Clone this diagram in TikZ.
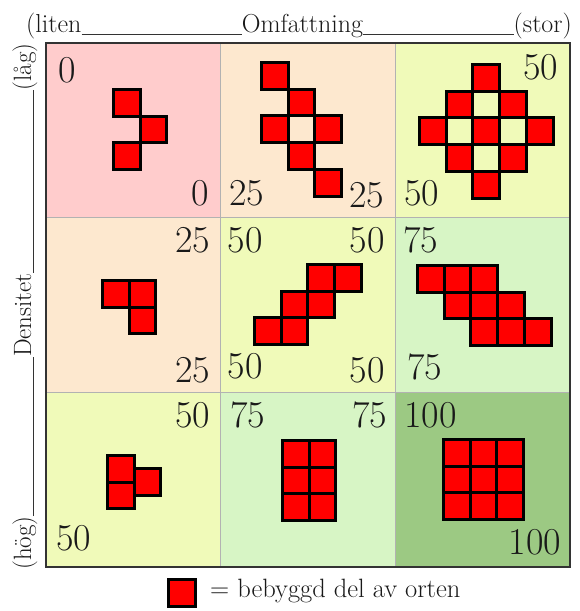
\documentclass[tikz,border=0pt]{standalone}
\usepackage{fontspec}
\usetikzlibrary{calc}
\definecolor{cpink}{HTML}{FFCCCC}
\definecolor{cpeach}{HTML}{FDE8CF}
\definecolor{cyell}{HTML}{F0FAB9}
\definecolor{clgreen}{HTML}{D7F5C5}
\definecolor{cdgreen}{HTML}{9CC983}
\begin{document}
\begin{tikzpicture}[x=1pt,y=-1pt,
  cellbox/.style={draw=gray!60,line width=0.8pt},
  num/.style={inner sep=0pt,font=\fontsize{38}{40}\selectfont,text=black!90},
  lab/.style={inner sep=0pt,font=\fontsize{26}{28}\selectfont,text=black!90},
  vlab/.style={inner sep=0pt,font=\fontsize{25}{27}\selectfont,text=black!90,rotate=90},
  uline/.style={draw=black!80,line width=1.4pt},
  blk/.style={draw=black,fill=red,line width=3pt,line join=miter}]
\useasboundingbox (0,0) rectangle (579,611);
\fill[white] (0,0) rectangle (579,611);
% cells
\def\xa{46}\def\xb{220}\def\xc{395}\def\xd{570}
\def\ya{43}\def\yb{217}\def\yc{392}\def\yd{567}
\fill[cpink]   (\xa,\ya) rectangle (\xb,\yb);
\fill[cpeach]  (\xb,\ya) rectangle (\xc,\yb);
\fill[cyell]   (\xc,\ya) rectangle (\xd,\yb);
\fill[cpeach]  (\xa,\yb) rectangle (\xb,\yc);
\fill[cyell]   (\xb,\yb) rectangle (\xc,\yc);
\fill[clgreen] (\xc,\yb) rectangle (\xd,\yc);
\fill[cyell]   (\xa,\yc) rectangle (\xb,\yd);
\fill[clgreen] (\xb,\yc) rectangle (\xc,\yd);
\fill[cdgreen] (\xc,\yc) rectangle (\xd,\yd);
\draw[cellbox] (\xb,\ya) -- (\xb,\yd) (\xc,\ya) -- (\xc,\yd)
               (\xa,\yb) -- (\xd,\yb) (\xa,\yc) -- (\xd,\yc);
\draw[black!80,line width=1.5pt] (\xa,\ya) rectangle (\xd,\yd);
% squares
\def\p{26.7}
\foreach \ox/\oy/\list in {
  113.5/89.5/{0/0,1/1,0/2},
  261.5/62.5/{0/0,1/1,0/2,2/2,1/3,2/4},
  419.5/64.5/{2/0,1/1,3/1,0/2,2/2,4/2,1/3,3/3,2/4},
  102.5/280.5/{0/0,1/0,1/1},
  254.5/264.5/{2/0,3/0,1/1,2/1,0/2,1/2},
  417.5/265.5/{0/0,1/0,2/0,1/1,2/1,3/1,2/2,3/2,4/2},
  107.5/455.5/{0/0,0/1,1/0.5},
  282.5/440.5/{0/0,1/0,0/1,1/1,0/2,1/2},
  443.5/439.5/{0/0,1/0,2/0,0/1,1/1,2/1,0/2,1/2,2/2}}{
  \foreach \c/\r in \list {
    \draw[blk] ({\ox+\c*\p},{\oy+\r*\p}) rectangle ++(\p,\p);
  }
}
% numbers
\node[num] (n11a) at (67.5,70.5) {0};
\node[num] (n11b) at (200,193.5) {0};
\node[num] (n12a) at (246.5,193.5) {25};
\node[num] (n12b) at (366.5,195) {25};
\node[num] (n13a) at (540.5,67) {50};
\node[num] (n13b) at (421.5,193.5) {50};
\node[num] (n21a) at (192.5,240) {25};
\node[num] (n21b) at (192.5,370) {25};
\node[num] (n22a) at (245,240) {50};
\node[num] (n22b) at (367,240) {50};
\node[num] (n22c) at (245,366.5) {50};
\node[num] (n22d) at (367,370) {50};
\node[num] (n23a) at (420.5,240) {75};
\node[num] (n23b) at (424.5,366.5) {75};
\node[num] (n31a) at (192.5,415) {50};
\node[num] (n31b) at (74,538.5) {50};
\node[num] (n32a) at (247.5,415) {75};
\node[num] (n32b) at (369.5,415) {75};
\node[num] (n33a) at (430.5,415) {100};
\node[num] (n33b) at (535,542.5) {100};
% title axis
\node[lab,anchor=base west] (liten) at (26,32) {(liten};
\node[lab,anchor=base] (omf) at (302.5,32) {Omfattning};
\node[lab,anchor=base east] (stor) at (572,32) {(stor)};
\draw[uline] ($(liten.base east)+(0,2.5)$) -- ($(omf.base west)+(0,2.5)$);
\draw[uline] ($(omf.base east)+(0,2.5)$) -- ($(stor.base west)+(0,2.5)$);
% vertical axis
\node[vlab,anchor=base west] (hog) at (31,570) {(hög)};
\node[vlab,anchor=base] (dens) at (31,315) {Densitet};
\node[vlab,anchor=base east] (lag) at (31,43) {(låg)};
\draw[uline] ($(hog.base east)+(2.5,0)$) -- ($(dens.base west)+(2.5,0)$);
\draw[uline] ($(dens.base east)+(2.5,0)$) -- ($(lag.base west)+(2.5,0)$);
% legend
\draw[blk] (168.5,579.5) rectangle ++(\p,\p);
\node[lab,anchor=base west,font=\fontsize{26.5}{28}\selectfont] (leg) at (210,597) {= bebyggd del av orten};
\end{tikzpicture}
\end{document}
